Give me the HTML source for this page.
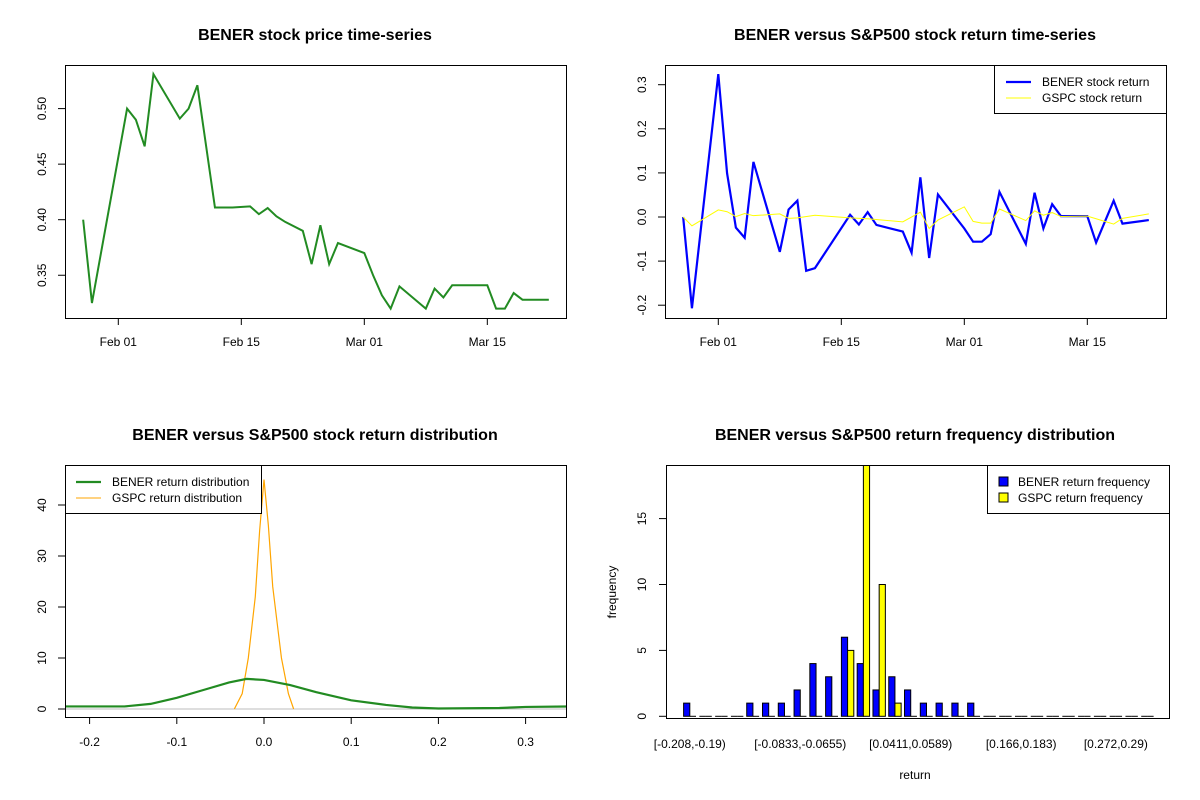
<!DOCTYPE html>
<html><head><meta charset="utf-8"><style>
body{margin:0;background:#fff}
svg{display:block;font-family:"Liberation Sans",Arial,sans-serif}
</style></head><body>
<svg id="c" width="1200" height="800" viewBox="0 0 1200 800"></svg>
<script>
// ---- Price chart data (days offset from Feb 01) ----
const priceDays=[-4,-3,1,2,3,4,7,8,9,11,13,15,16,17,18,19,21,22,23,24,25,28,29,30,31,32,35,36,37,38,42,43,44,45,46,49];
const priceVals=[0.400,0.325,0.500,0.490,0.466,0.531,0.491,0.500,0.521,0.411,0.411,0.412,0.405,0.4105,0.403,0.398,0.390,0.360,0.395,0.360,0.379,0.370,0.350,0.332,0.320,0.340,0.320,0.338,0.330,0.341,0.341,0.320,0.320,0.334,0.328,0.328];
// ---- Return series ----
const benerDays=[-4,-3,0,1,2,3,4,7,8,9,10,11,15,16,17,18,21,22,23,24,25,28,29,30,31,32,35,36,37,38,39,42,43,45,46,49];
const benerRet=[0,-0.207,0.324,0.099,-0.024,-0.047,0.125,-0.079,0.017,0.037,-0.122,-0.116,0.005,-0.017,0.011,-0.018,-0.033,-0.081,0.090,-0.093,0.051,-0.026,-0.056,-0.056,-0.039,0.057,-0.061,0.055,-0.026,0.029,0.002,0.002,-0.058,0.037,-0.015,-0.007];
const gspcDays=[-4,-3,0,1,2,3,4,7,8,9,11,15,17,21,23,24,25,28,29,30,31,32,35,36,37,38,39,42,43,45,46,49];
const gspcRet=[0,-0.020,0.016,0.012,0.001,0.008,0.003,0.007,-0.003,-0.002,0.004,-0.002,-0.004,-0.011,0.011,-0.026,-0.007,0.023,-0.010,-0.014,-0.014,0.018,-0.008,0.014,0.004,0.010,0.001,0.002,-0.004,-0.016,-0.003,0.007];
// ---- Density curves ----
const benerDensX=[-0.23,-0.16,-0.13,-0.10,-0.07,-0.04,-0.02,0.0,0.03,0.06,0.10,0.14,0.17,0.20,0.27,0.30,0.35];
const benerDensY=[0.5,0.5,1.0,2.2,3.7,5.2,5.9,5.7,4.7,3.3,1.7,0.8,0.3,0.1,0.2,0.4,0.5];
const gspcDensX=[-0.034,-0.025,-0.018,-0.01,-0.005,0.0,0.005,0.01,0.02,0.028,0.034];
const gspcDensY=[0,3,10,22,35,45,36,24,10,3,0];
// ---- Histogram ----
const binLabels=["[-0.208,-0.19)","[-0.0833,-0.0655)","[0.0411,0.0589)","[0.166,0.183)","[0.272,0.29)"];
const binLabelIdx=[0,7,14,21,27];
const benerFreq=[1,0,0,0,1,1,1,2,4,3,6,4,2,3,2,1,1,1,1,0,0,0,0,0,0,0,0,0,0,0];
const gspcFreq=[0,0,0,0,0,0,0,0,0,0,5,20,10,1,0,0,0,0,0,0,0,0,0,0,0,0,0,0,0,0];

const S=document.getElementById('c');const NS='http://www.w3.org/2000/svg';
function mk(t,a,p){const e=document.createElementNS(NS,t);for(const k in a)e.setAttribute(k,a[k]);(p||S).appendChild(e);return e;}
function txt(s,x,y,a,p){const e=mk('text',Object.assign({x:x,y:y,'font-size':12,fill:'#000','text-anchor':'middle'},a||{}),p);e.textContent=s;return e;}
function clip(id,x,y,w,h){const d=mk('clipPath',{id:id});mk('rect',{x:x,y:y,width:w,height:h},d);}

// ========== Panel 1: price ==========
const g1=mk('g',{});
const dx=d=>118.3+d*8.786;
const py=v=>219.7-(v-0.40)*1111;
let t=txt('BENER stock price time-series',315,40,{'font-size':16,'font-weight':'bold'},g1);
let pts=priceDays.map((d,i)=>dx(d)+','+py(priceVals[i])).join(' ');
let l=mk('polyline',{points:pts,fill:'none',stroke:'#228b22','stroke-width':2},g1);
mk('rect',{x:65.5,y:65.5,width:501,height:253,fill:'none',stroke:'#000'},g1);
[0.35,0.40,0.45,0.50].forEach(v=>{mk('line',{x1:58,x2:65,y1:py(v),y2:py(v),stroke:'#000'},g1);const e=txt(v.toFixed(2),46,py(v),{transform:'rotate(-90 46 '+py(v)+')'},g1);});
const dateTicks=[0,14,28,42],dateLab=['Feb 01','Feb 15','Mar 01','Mar 15'];
dateTicks.forEach((d,i)=>{mk('line',{x1:dx(d),x2:dx(d),y1:318,y2:325,stroke:'#000'},g1);const e=txt(dateLab[i],dx(d),346,{},g1);});

// ========== Panel 2: returns ==========
const g2=mk('g',{});
const dx2=d=>718.3+d*8.786;
const ry=v=>217-v*441;
t=txt('BENER versus S&P500 stock return time-series',915,40,{'font-size':16,'font-weight':'bold'},g2);
l=mk('polyline',{points:benerDays.map((d,i)=>dx2(d)+','+ry(benerRet[i])).join(' '),fill:'none',stroke:'#0000ff','stroke-width':2.2},g2);
l=mk('polyline',{points:gspcDays.map((d,i)=>dx2(d)+','+ry(gspcRet[i])).join(' '),fill:'none',stroke:'#ffff00','stroke-width':1},g2);
mk('rect',{x:665.5,y:65.5,width:501,height:253,fill:'none',stroke:'#000'},g2);
[-0.2,-0.1,0,0.1,0.2,0.3].forEach(v=>{mk('line',{x1:658,x2:665,y1:ry(v),y2:ry(v),stroke:'#000'},g2);const s=v===0?'0.0':v.toFixed(1);const e=txt(s,646,ry(v),{transform:'rotate(-90 646 '+ry(v)+')'},g2);});
dateTicks.forEach((d,i)=>{mk('line',{x1:dx2(d),x2:dx2(d),y1:318,y2:325,stroke:'#000'},g2);const e=txt(dateLab[i],dx2(d),346,{},g2);});
const lg2=mk('g',{},g2);
mk('rect',{x:994.5,y:65.5,width:172,height:48,fill:'#fff',stroke:'#000'},lg2);
mk('line',{x1:1006,x2:1031,y1:82,y2:82,stroke:'#0000ff','stroke-width':2.2},lg2);
mk('line',{x1:1006,x2:1031,y1:98,y2:98,stroke:'#ffff00','stroke-width':1},lg2);
txt('BENER stock return',1042,86,{'text-anchor':'start'},lg2);txt('GSPC stock return',1042,102,{'text-anchor':'start'},lg2);

// ========== Panel 3: density ==========
const g3=mk('g',{});
clip('cp3',65.5,465.5,501,252);
const kx=v=>264+v*872;
const ky=v=>709-v*5.1;
t=txt('BENER versus S&P500 stock return distribution',315,440,{'font-size':16,'font-weight':'bold'},g3);
const inner3=mk('g',{'clip-path':'url(#cp3)'},g3);
mk('line',{x1:65,x2:567,y1:ky(0),y2:ky(0),stroke:'#bebebe'},inner3);
l=mk('polyline',{points:gspcDensX.map((x,i)=>kx(x)+','+ky(gspcDensY[i])).join(' '),fill:'none',stroke:'#ffa500','stroke-width':1.2},inner3);
l=mk('polyline',{points:benerDensX.map((x,i)=>kx(x)+','+ky(benerDensY[i])).join(' '),fill:'none',stroke:'#228b22','stroke-width':2.2},inner3);
mk('rect',{x:65.5,y:465.5,width:501,height:252,fill:'none',stroke:'#000'},g3);
[0,10,20,30,40].forEach(v=>{mk('line',{x1:58,x2:65,y1:ky(v),y2:ky(v),stroke:'#000'},g3);const e=txt(String(v),46,ky(v),{transform:'rotate(-90 46 '+ky(v)+')'},g3);});
[-0.2,-0.1,0,0.1,0.2,0.3].forEach(v=>{mk('line',{x1:kx(v),x2:kx(v),y1:717,y2:724,stroke:'#000'},g3);const e=txt(v===0?'0.0':v.toFixed(1),kx(v),746,{},g3);});
const lg3=mk('g',{},g3);
mk('rect',{x:65.5,y:465.5,width:196,height:48,fill:'#fff',stroke:'#000'},lg3);
mk('line',{x1:76,x2:101,y1:482,y2:482,stroke:'#228b22','stroke-width':2.2},lg3);
mk('line',{x1:76,x2:101,y1:498,y2:498,stroke:'#ffa500','stroke-width':1},lg3);
txt('BENER return distribution',112,486,{'text-anchor':'start'},lg3);txt('GSPC return distribution',112,502,{'text-anchor':'start'},lg3);

// ========== Panel 4: histogram ==========
const g4=mk('g',{});
clip('cp4',666,465.5,503,252);
const gx=i=>683.6+i*15.78;
const hy=v=>716.3-v*13.18;
const bw=6.2;
t=txt('BENER versus S&P500 return frequency distribution',915,440,{'font-size':16,'font-weight':'bold'},g4);
const inner4=mk('g',{'clip-path':'url(#cp4)'},g4);
function bar(v,x,fill,name){
  if(v>0){const r=mk('rect',{x:x,y:hy(v),width:bw,height:hy(0)-hy(v),fill:fill,stroke:'#000','stroke-width':1},inner4);}
  else{const r=mk('line',{x1:x,x2:x+bw,y1:hy(0),y2:hy(0),stroke:'#000','stroke-width':1},inner4);}
}
benerFreq.forEach((v,i)=>bar(v,gx(i),'#0000ff','bener-bar'));
gspcFreq.forEach((v,i)=>bar(v,gx(i)+bw,'#ffff00','gspc-bar'));
mk('rect',{x:666.5,y:465.5,width:503,height:253,fill:'none',stroke:'#000'},g4);
[0,5,10,15].forEach(v=>{mk('line',{x1:659,x2:666,y1:hy(v),y2:hy(v),stroke:'#000'},g4);const e=txt(String(v),646,hy(v),{transform:'rotate(-90 646 '+hy(v)+')'},g4);});
binLabels.forEach((s,k)=>{const e=txt(s,gx(binLabelIdx[k])+bw,748,{},g4);});
t=txt('return',915,779,{},g4);
t=txt('frequency',616,592,{transform:'rotate(-90 616 592)'},g4);
const lg4=mk('g',{},g4);
mk('rect',{x:987.5,y:465.5,width:182,height:48,fill:'#fff',stroke:'#000'},lg4);
mk('rect',{x:999,y:477,width:9,height:9,fill:'#0000ff',stroke:'#000'},lg4);
mk('rect',{x:999,y:493,width:9,height:9,fill:'#ffff00',stroke:'#000'},lg4);
txt('BENER return frequency',1018,486,{'text-anchor':'start'},lg4);txt('GSPC return frequency',1018,502,{'text-anchor':'start'},lg4);
</script>
</body></html>
